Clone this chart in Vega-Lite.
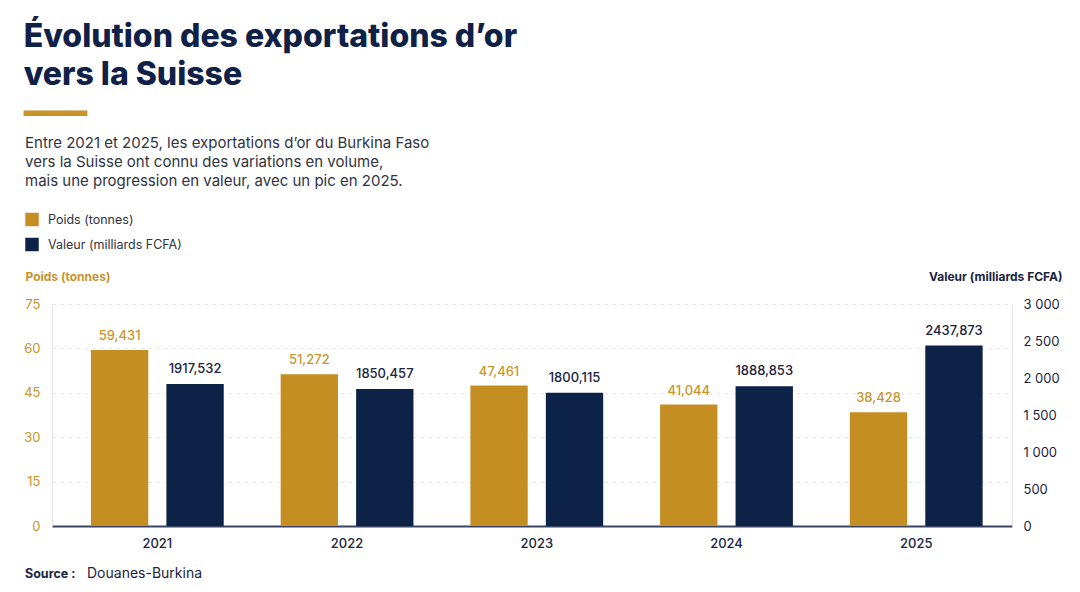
{
  "$schema": "https://vega.github.io/schema/vega-lite/v6.json",
  "width": 960,
  "height": 222,
  "autosize": {"type": "none"},
  "padding": {"left": 52, "top": 304, "right": 68, "bottom": 66},
  "background": "white",
  "config": {
    "font": "Inter",
    "view": {"stroke": null},
    "axis": {"labelFont": "Inter", "titleFont": "Inter", "ticks": false},
    "legend": {"labelFont": "Inter", "titleFont": "Inter"}
  },
  "title": {
    "text": ["Évolution des exportations d’or", "vers la Suisse"],
    "subtitle": "▁▁▁",
    "anchor": "start",
    "frame": "bounds",
    "font": "Inter",
    "fontSize": 32,
    "fontWeight": 800,
    "color": "#0f2147",
    "lineHeight": 38,
    "subtitleFont": "DejaVu Sans Mono",
    "subtitleFontSize": 35,
    "subtitleColor": "#C8942A",
    "subtitlePadding": -13,
    "offset": 21
  },
  "data": {
    "values": [
      {"annee": "2021", "serie": "Poids (tonnes)", "valeur": 59.431, "etiquette": "59,431"},
      {"annee": "2022", "serie": "Poids (tonnes)", "valeur": 51.272, "etiquette": "51,272"},
      {"annee": "2023", "serie": "Poids (tonnes)", "valeur": 47.461, "etiquette": "47,461"},
      {"annee": "2024", "serie": "Poids (tonnes)", "valeur": 41.044, "etiquette": "41,044"},
      {"annee": "2025", "serie": "Poids (tonnes)", "valeur": 38.428, "etiquette": "38,428"},
      {"annee": "2021", "serie": "Valeur (milliards FCFA)", "valeur": 1917.532, "etiquette": "1917,532"},
      {"annee": "2022", "serie": "Valeur (milliards FCFA)", "valeur": 1850.457, "etiquette": "1850,457"},
      {"annee": "2023", "serie": "Valeur (milliards FCFA)", "valeur": 1800.115, "etiquette": "1800,115"},
      {"annee": "2024", "serie": "Valeur (milliards FCFA)", "valeur": 1888.853, "etiquette": "1888,853"},
      {"annee": "2025", "serie": "Valeur (milliards FCFA)", "valeur": 2437.873, "etiquette": "2437,873"}
    ]
  },
  "encoding": {
    "x": {
      "field": "annee",
      "type": "nominal",
      "scale": {"paddingInner": 0.3, "paddingOuter": 0.18, "align": 0.57},
      "axis": {
        "title": null,
        "labelAngle": 0,
        "labelFontSize": 13,
        "labelFontWeight": 500,
        "labelColor": "#1b2440",
        "labelPadding": 11,
        "domainColor": "#3b4462",
        "domainWidth": 2,
        "grid": false
      }
    },
    "xOffset": {
      "field": "serie",
      "type": "nominal",
      "scale": {"domain": ["Poids (tonnes)", "Valeur (milliards FCFA)"], "paddingInner": 0.24}
    }
  },
  "layer": [
    {
      "transform": [{"filter": "datum.serie === 'Poids (tonnes)'"}],
      "encoding": {
        "y": {
          "field": "valeur",
          "type": "quantitative",
          "scale": {"domain": [0, 75], "nice": false},
          "axis": {
            "orient": "left",
            "values": [0, 15, 30, 45, 60, 75],
            "title": "Poids (tonnes)",
            "titleAngle": 0,
            "titleAlign": "left",
            "titleBaseline": "middle",
            "titleX": -27,
            "titleY": -27.5,
            "titleColor": "#C8942A",
            "titleFontSize": 12,
            "titleFontWeight": 700,
            "labelColor": "#C8942A",
            "labelFontSize": 13,
            "labelPadding": 12,
            "domainColor": "#e3e3e3",
            "grid": true,
            "gridDash": [4, 4],
            "gridColor": "#e6e6e6"
          }
        }
      },
      "layer": [
        {
          "mark": {"type": "bar"},
          "encoding": {
            "color": {
              "field": "serie",
              "type": "nominal",
              "scale": {"domain": ["Poids (tonnes)", "Valeur (milliards FCFA)"], "range": ["#C58E22", "#0c2247"]},
              "legend": {
                "orient": "none",
                "legendX": -27,
                "legendY": -168.5,
                "direction": "vertical",
                "title": [
                  "Entre 2021 et 2025, les exportations d’or du Burkina Faso",
                  "vers la Suisse ont connu des variations en volume,",
                  "mais une progression en valeur, avec un pic en 2025."
                ],
                "titleFontSize": 15,
                "titleFontWeight": 400,
                "titleColor": "#30343f",
                "titleLineHeight": 19,
                "titlePadding": 24,
                "titleLimit": 800,
                "symbolType": "square",
                "symbolSize": 182,
                "symbolStrokeWidth": 0,
                "symbolOpacity": 1,
                "labelFontSize": 12.5,
                "labelColor": "#30343f",
                "labelOffset": 9,
                "labelLimit": 400,
                "rowPadding": 11
              }
            },
            "opacity": {
              "datum": "Douanes-Burkina",
              "type": "ordinal",
              "scale": {"type": "ordinal", "range": [1]},
              "legend": {
                "orient": "none",
                "legendX": -27,
                "legendY": 263,
                "title": "Source :",
                "titleOrient": "left",
                "titleFontSize": 12.5,
                "titleFontWeight": 700,
                "titleColor": "#1b2440",
                "titlePadding": 2,
                "symbolSize": 0,
                "symbolOpacity": 0,
                "symbolStrokeWidth": 0,
                "labelFontSize": 14,
                "labelColor": "#1b2440",
                "labelOffset": -5
              }
            }
          }
        },
        {
          "mark": {"type": "text", "dy": -10, "baseline": "alphabetic", "fontSize": 13, "fontWeight": 500, "color": "#C9962E"},
          "encoding": {"text": {"field": "etiquette", "type": "nominal"}}
        }
      ]
    },
    {
      "transform": [{"filter": "datum.serie === 'Valeur (milliards FCFA)'"}],
      "encoding": {
        "y": {
          "field": "valeur",
          "type": "quantitative",
          "scale": {"domain": [0, 3000], "nice": false},
          "axis": {
            "orient": "right",
            "values": [0, 500, 1000, 1500, 2000, 2500, 3000],
            "labelExpr": "replace(format(datum.value, ','), ',', ' ')",
            "title": "Valeur (milliards FCFA)",
            "titleAngle": 0,
            "titleAlign": "right",
            "titleBaseline": "middle",
            "titleX": 50,
            "titleY": -27.5,
            "titleColor": "#1b2440",
            "titleFontSize": 12,
            "titleFontWeight": 700,
            "labelColor": "#1b2440",
            "labelFontSize": 13,
            "labelPadding": 11,
            "domainColor": "#e3e3e3",
            "grid": false
          }
        }
      },
      "layer": [
        {
          "mark": {"type": "bar"},
          "encoding": {
            "color": {
              "field": "serie",
              "type": "nominal",
              "scale": {"domain": ["Poids (tonnes)", "Valeur (milliards FCFA)"], "range": ["#C58E22", "#0c2247"]}
            }
          }
        },
        {
          "mark": {"type": "text", "dy": -11, "baseline": "alphabetic", "fontSize": 13, "fontWeight": 500, "color": "#1b2440"},
          "encoding": {"text": {"field": "etiquette", "type": "nominal"}}
        }
      ]
    }
  ],
  "resolve": {"scale": {"y": "independent"}}
}
